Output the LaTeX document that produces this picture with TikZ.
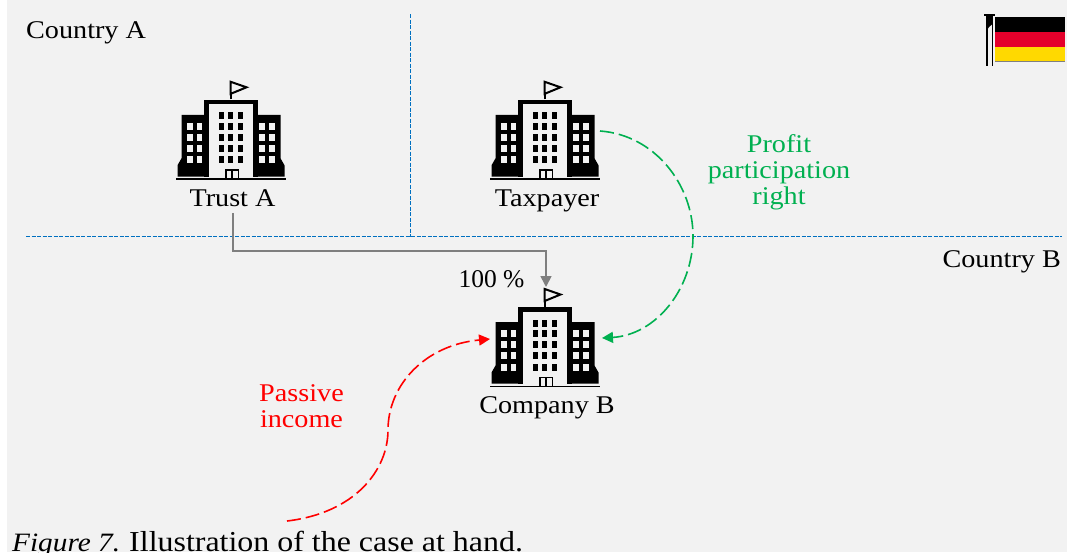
\documentclass[tikz,border=0pt]{standalone}
\usepackage{fontspec}
\setmainfont[FakeStretch=1.105]{Liberation Serif}
\newfontfamily\plainserif{Liberation Serif}
\usetikzlibrary{arrows.meta}
\definecolor{bg}{HTML}{F2F2F2}
\definecolor{bluel}{HTML}{0070C0}
\definecolor{greenl}{HTML}{00B050}
\definecolor{greyl}{HTML}{7F7F7F}
\definecolor{flagred}{HTML}{E4002B}
\definecolor{flaggold}{HTML}{FFD900}
\tikzset{
  x=1pt,y=-1pt,
  lbl/.style={inner sep=0pt,font=\fontsize{25.5pt}{26pt}\selectfont,text=black,align=center},
  greenlbl/.style={lbl,text=greenl},
  redlbl/.style={lbl,text=red},
  border/.style={bluel,line width=0.95pt,dash pattern=on 4pt off 1.5pt},
  flow/.style={line width=1.6pt,dash pattern=on 14pt off 5pt,-{Triangle[length=11pt,width=11pt]}},
  owner/.style={greyl,line width=1.7pt,-{Triangle[length=11pt,width=11pt]}},
  building/.pic={
    % ground
    \fill[black] (-55,-0.9) rectangle (55,0.9);
    % wings
    \fill[black] (-49.5,-64.5) -- (-22,-64.5) -- (-22,-2.8) -- (-53.5,-2.8) -- (-53.5,-14) -- (-49.5,-21) -- cycle;
    \fill[black] (49.5,-64.5) -- (22,-64.5) -- (22,-2.8) -- (53.5,-2.8) -- (53.5,-14) -- (49.5,-21) -- cycle;
    % tower
    \fill[black] (-26.7,-79.5) rectangle (26.7,-2.8);
    \fill[bg] (-22,-75) rectangle (22.3,-0.9);
    % wing windows
    \foreach \yy in {-56.3,-45.5,-34.8,-23}{
      \foreach \xx in {-43.8,-34}{\fill[bg] (\xx,\yy) rectangle +(5.4,7);}
      \foreach \xx in {28.4,38.2}{\fill[bg] (\xx,\yy) rectangle +(5.4,7);}
    }
    % tower windows
    \foreach \yy in {-67,-56.3,-45.5,-34.8,-23}{
      \foreach \xx in {-12.3,-2.6,7.4}{\fill[black] (\xx,\yy) rectangle +(5,7);}
    }
    % door
    \fill[black] (-6.2,-10) rectangle (8.3,0);
    \fill[bg] (-4.5,-8.2) rectangle (0.4,0);
    \fill[bg] (2,-8.2) rectangle (6.7,0);
    \fill[black] (-6.5,-0.9) rectangle (8.5,0.9);
    % flag
    \draw[black,line width=2pt] (0,-80) -- (0,-98);
    \draw[black,line width=2pt,fill=bg,line join=miter] (-0.3,-97.5) -- (15.5,-92) -- (-0.3,-85.5) -- cycle;
  }
}
\begin{document}
\begin{tikzpicture}
\useasboundingbox (0,0) rectangle (1067,552);
\clip (0,0) rectangle (1067,552);
\fill[white] (0,0) rectangle (1067,552);
\fill[bg] (7,0) rectangle (1067,552);

% borders
\coordinate (hl) at (26,236.5); \coordinate (hr) at (1062,236.5);
\coordinate (vt) at (410.5,14); \coordinate (vb) at (410.5,236.5);
\draw[border] (hl) -- (hr);
\draw[border] (vt) -- (vb);

% region labels
\node[lbl,anchor=base west] (ca) at (26,38) {Country A};
\node[lbl,anchor=base east] (cb) at (1061,267) {Country B};

% buildings
\pic at (231,179.3) {building};
\pic at (545,179.3) {building};
\pic at (545,386.5) {building};

\node[lbl,anchor=base] (trust) at (232.5,206.5) {Trust A};
\node[lbl,anchor=base] (tax) at (547,206.5) {Taxpayer};
\node[lbl,anchor=base] (comp) at (547,413.5) {Company B};
\node[lbl,anchor=base,font=\fontsize{25.5pt}{26pt}\plainserif] (pct) at (491.5,287) {100 \%};
\node[greenlbl] (profit) at (779,172.5) {Profit\\participation\\right};
\node[redlbl] (passive) at (301.5,406.5) {Passive\\income};

% connector end points
\coordinate (taxR) at (600,131);
\coordinate (compR) at (602,338);
\coordinate (compL) at (490,339);
\coordinate (compT) at (546,287);
\coordinate (src) at (287,521);
\coordinate (bend) at (233,251);

\draw[owner,shorten <=6pt] (trust.south -| bend) -- (bend) -- (bend -| compT) -- (compT);
\draw[flow,greenl] (taxR) .. controls (655,135) and (693,185) .. (693,236)
   .. controls (693,290) and (655,335) .. (compR);
\draw[flow,red] (src) .. controls (355,513) and (388,470) .. (388,430)
   .. controls (388,385) and (425,345) .. (compL);

% flag
\fill[black] (995,17.3) rectangle (1064.5,32);
\fill[flagred] (995,32) rectangle (1064.5,47);
\fill[flaggold] (995,47) rectangle (1064.5,60.5);
\fill[gray] (995,60.5) rectangle (1065,61.7);
\fill[black] (984,13.5) rectangle (995,16);
\fill[black] (987,16) -- (992.5,16) -- (992.5,24) -- (989,27) -- (987,30) -- cycle;
\draw[black,line width=1.3pt] (987,16) -- (987,65.5);
\draw[black,line width=1.3pt] (992.5,16) -- (992.5,65.5);

% caption
\node[lbl,anchor=base west,font=\fontsize{28.9pt}{30pt}\selectfont] (cap) at (12,551) {{\fontsize{26.5pt}{30pt}\selectfont\textit{Figure 7.}}\hspace{-1.5pt} Illustration of the case at hand.};
\end{tikzpicture}
\end{document}
